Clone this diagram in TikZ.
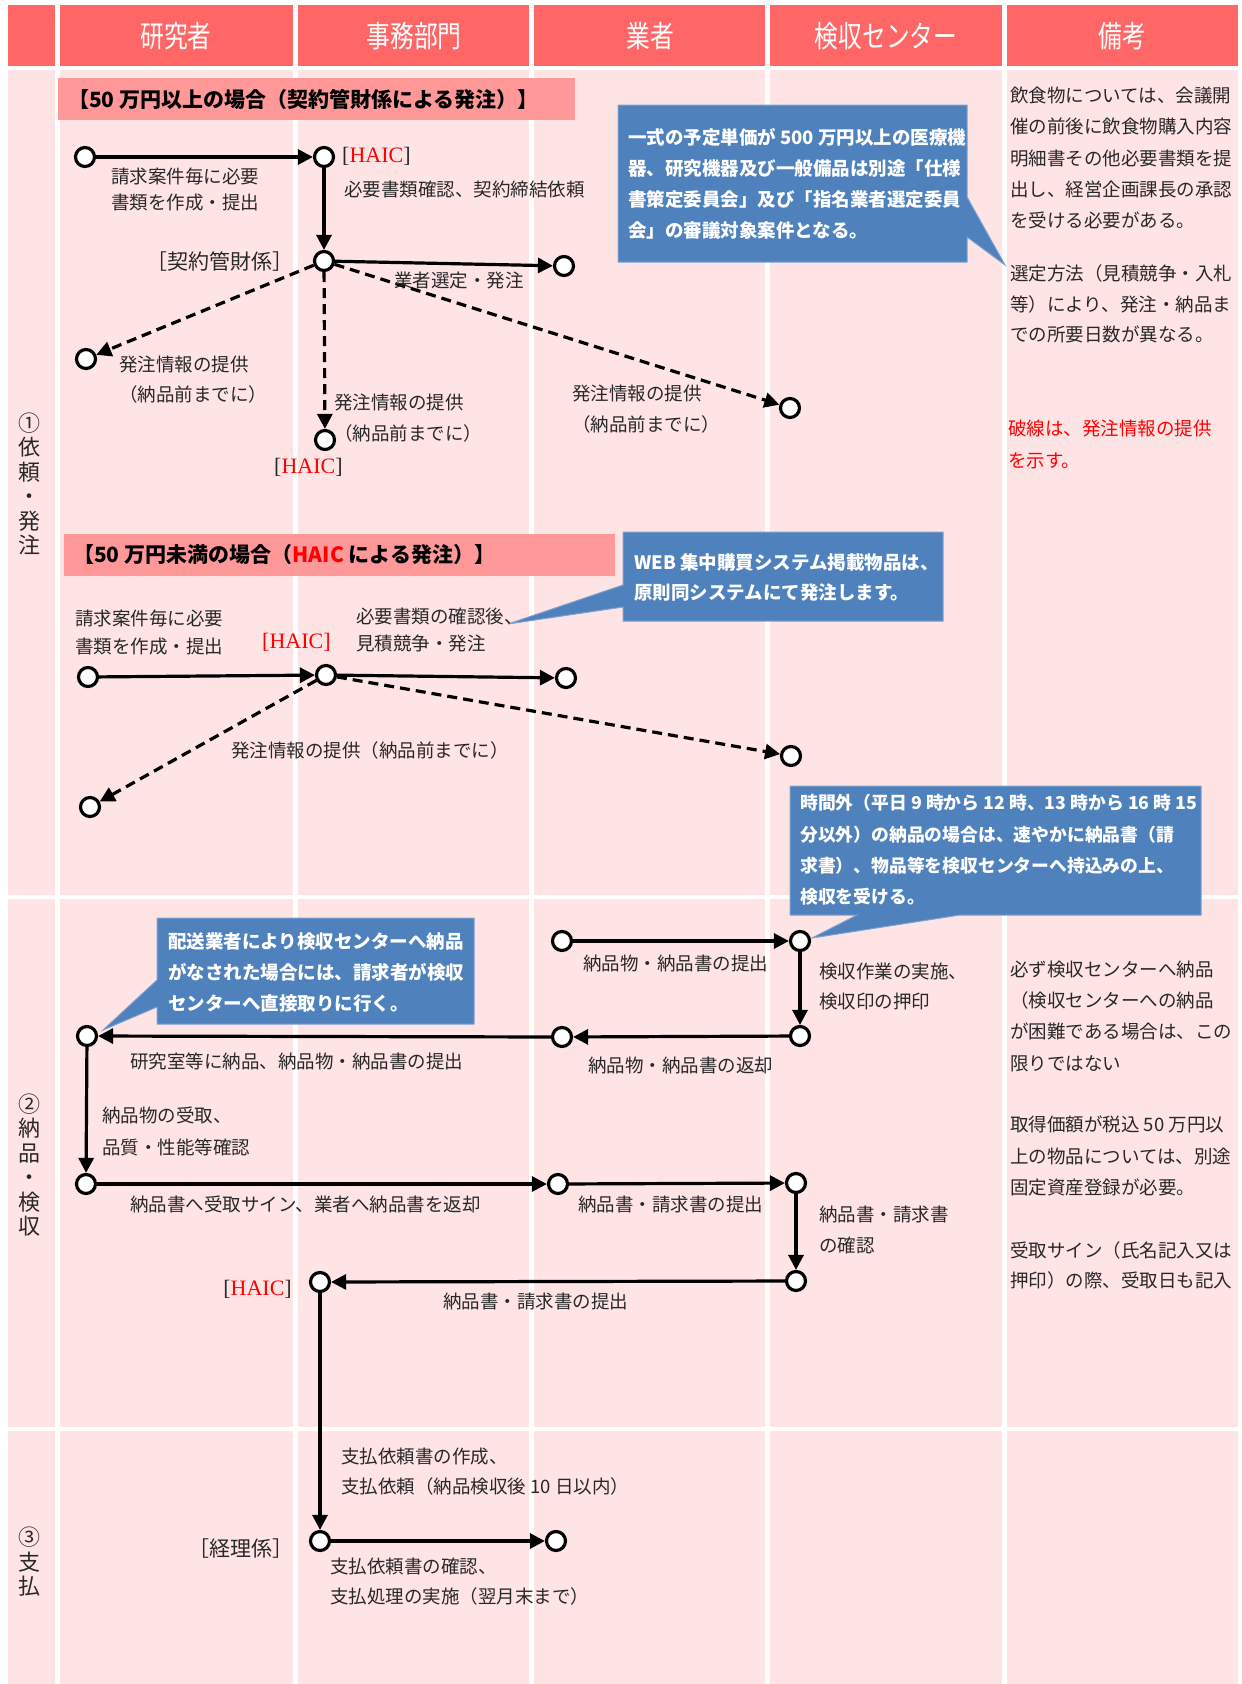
\documentclass[tikz,border=0pt]{standalone}
\usepackage{fontspec}
\setmainfont{Noto Sans CJK JP}
\newfontfamily\latf{Liberation Serif}
\usetikzlibrary{arrows.meta}
\definecolor{hdr}{RGB}{255,102,102}
\definecolor{cellc}{RGB}{255,228,230}
\definecolor{bann}{RGB}{255,153,153}
\definecolor{cblue}{RGB}{79,129,189}
\definecolor{cbord}{RGB}{125,162,210}
\definecolor{hred}{RGB}{255,0,0}
\definecolor{txt}{RGB}{40,40,40}
\newcommand{\fsz}[2]{\fontsize{#1}{#2}\selectfont}
\newcommand{\haic}{{\latf\fsz{22}{24}[\textcolor{hred}{HAIC}]}}
\newcommand{\haicred}{{\latf\fsz{22}{24}\textcolor{hred}{[HAIC]}}}
\newcommand{\tallhd}[1]{\scalebox{0.95}[1.2]{#1}}
\tikzset{
  stn/.style={circle, draw=black, line width=3.2pt, fill=white, minimum size=19pt, inner sep=0pt},
  arr/.style={line width=3.2pt, -{Triangle[length=15pt,width=15pt]}},
  darr/.style={arr, dash pattern=on 10pt off 6pt},
  lbl/.style={inner sep=0pt, anchor=west, align=left, text=txt, font=\fsz{18.5}{26}},
  lblp/.style={lbl, font=\fsz{18.5}{#1}},
  role/.style={lbl, anchor=east, font=\fsz{21}{24}},
  hdrtxt/.style={text=white, font=\fsz{25}{27}, inner sep=0pt},
  rowlbl/.style={text=txt, align=center, font=\fsz{22}{24.5}, inner sep=0pt},
  co/.style={fill=cblue, draw=cbord, line width=1pt},
  cotxt/.style={inner sep=0pt, anchor=west, align=left, text=white, font=\bfseries\fsz{18.5}{#1}},
  bantxt/.style={inner sep=0pt, anchor=west, text=black, font=\bfseries\fsz{21}{23}},
  rmk/.style={inner sep=0pt, anchor=west, align=left, text=txt, font=\fsz{18.5}{#1}},
}
\begin{document}
\begin{tikzpicture}[x=1pt,y=-1pt]
\useasboundingbox (0,0) rectangle (1242,1684);
\fill[white] (0,0) rectangle (1242,1684);
% cells
\foreach \xa/\xb in {8/55,60/293,298/529,534/765,770/1002,1007/1238}{
  \fill[hdr] (\xa,5) rectangle (\xb,66);
  \fill[cellc] (\xa,70) rectangle (\xb,895);
  \fill[cellc] (\xa,899) rectangle (\xb,1427);
  \fill[cellc] (\xa,1431) rectangle (\xb,1684);
}
% header texts
\node[hdrtxt] (h1) at (176,36) {\tallhd{研究者}};
\node[hdrtxt] (h2) at (414,36) {\tallhd{事務部門}};
\node[hdrtxt] (h3) at (650,36) {\tallhd{業者}};
\node[hdrtxt] (h4) at (886,36) {\tallhd{検収センター}};
\node[hdrtxt] (h5) at (1122,36) {\tallhd{備考}};
% row labels
\node[rowlbl] (r1) at (29,484) {①\\依\\頼\\・\\発\\注};
\node[rowlbl] (r2) at (29,1165) {②\\納\\品\\・\\検\\収};
\node[rowlbl] (r3) at (29,1562) {③\\支\\払};
% banners
\fill[bann] (58,78) rectangle (575,120);
\node[bantxt] (b1) at (68,99) {【50 万円以上の場合（契約管財係による発注）】};
\fill[bann] (64,534) rectangle (615,576);
\node[bantxt] (b2) at (73,555) {【50 万円未満の場合（\textcolor{hred}{HAIC} による発注）】};
% callouts
\draw[co] (618,105) -- (967,105) -- (967,197) -- (1005,265) -- (967,237) -- (967,262) -- (618,262) -- cycle;
\node[cotxt=31] (k1) at (628,184) {一式の予定単価が 500 万円以上の医療機\\器、研究機器及び一般備品は別途「仕様\\書策定委員会」及び「指名業者選定委員\\会」の審議対象案件となる。};
\draw[co] (623,532) -- (943,532) -- (943,621) -- (623,621) -- (623,607) -- (508,624) -- (623,585) -- cycle;
\node[cotxt=30] (k2) at (634,577) {WEB 集中購買システム掲載物品は、\\原則同システムにて発注します。};
\draw[co] (790,786) -- (1201,786) -- (1201,915) -- (960,915) -- (812,938) -- (857,915) -- (790,915) -- cycle;
\node[cotxt=31.3, font=\bfseries\fsz{17.8}{31.3}] (k3) at (800,850) {時間外（平日 9 時から 12 時、13 時から 16 時 15\\分以外）の納品の場合は、速やかに納品書（請\\求書）、物品等を検収センターへ持込みの上、\\検収を受ける。};
\draw[co] (157,918) -- (474,918) -- (474,1024) -- (157,1024) -- (157,1007) -- (103,1030) -- (157,980) -- cycle;
\node[cotxt=31] (k4) at (168,972) {配送業者により検収センターへ納品\\がなされた場合には、請求者が検収\\センターへ直接取りに行く。};
% remarks
\node[rmk=31.4] (m1) at (1010,158) {飲食物については、会議開\\催の前後に飲食物購入内容\\明細書その他必要書類を提\\出し、経営企画課長の承認\\を受ける必要がある。};
\node[rmk=30.5] (m2) at (1010,304) {選定方法（見積競争・入札\\等）により、発注・納品ま\\での所要日数が異なる。};
\node[rmk=32, text=hred] (m3) at (1008,444) {破線は、発注情報の提供\\を示す。};
\node[rmk=31.3] (m4) at (1010,1016) {必ず検収センターへ納品\\（検収センターへの納品\\が困難である場合は、この\\限りではない};
\node[rmk=31.5] (m5) at (1010,1156) {取得価額が税込 50 万円以\\上の物品については、別途\\固定資産登録が必要。};
\node[rmk=30] (m6) at (1010,1265) {受取サイン（氏名記入又は\\押印）の際、受取日も記入};
% ---- section 1 upper flow
\node[stn] (c1) at (85,157) {};
\node[stn] (c2) at (324,157) {};
\node[stn] (c3) at (324,261) {};
\node[stn] (c4) at (564,266) {};
\node[stn] (c5) at (86,359) {};
\node[stn] (c6) at (325,440) {};
\node[stn] (c7) at (790,408) {};
\draw[arr] (c1) -- (c2);
\draw[arr] (c2) -- (c3);
\draw[arr] (c3) -- (c4);
\draw[darr] (c3) -- (c5);
\draw[darr] (c3) -- (c6);
\draw[darr] (c3) -- (c7);
\node[lblp=26] (t1) at (111,190) {請求案件毎に必要\\書類を作成・提出};
\node[lbl] (t2) at (342,156) {\haic};
\node[lbl] (t3) at (344,189) {必要書類確認、契約締結依頼};
\node[role] (t4) at (294,262) {［契約管財係］};
\node[lbl] (t5) at (394,280) {業者選定・発注};
\node[lblp=30] (t6) at (119,380) {発注情報の提供\\（納品前までに）};
\node[lblp=31] (t7) at (334,418) {発注情報の提供\\（納品前までに）};
\node[lbl] (t8) at (274,467) {\haic};
\node[lblp=31] (t9) at (572,409) {発注情報の提供\\（納品前までに）};
% ---- section 1 lower flow
\node[stn] (d1) at (88,677) {};
\node[stn] (d2) at (326,675) {};
\node[stn] (d3) at (566,678) {};
\node[stn] (d4) at (90,807) {};
\node[stn] (d5) at (791,756) {};
\draw[arr] (d1) -- (d2);
\draw[arr] (d2) -- (d3);
\draw[darr] (d2) -- (d4);
\draw[darr] (d2) -- (d5);
\node[lblp=28] (u1) at (75,633) {請求案件毎に必要\\書類を作成・提出};
\node[lbl] (u2) at (262,642) {\haicred};
\node[lblp=27] (u3) at (356,630) {必要書類の確認後、\\見積競争・発注};
\node[lbl] (u4) at (231,750) {発注情報の提供（納品前までに）};
% ---- section 2
\node[stn] (e1) at (562,941) {};
\node[stn] (e2) at (800,941) {};
\node[stn] (e3) at (800,1036) {};
\node[stn] (e4) at (562,1037) {};
\node[stn] (e5) at (87,1036) {};
\node[stn] (e6) at (86,1184) {};
\node[stn] (e7) at (558,1184) {};
\node[stn] (e8) at (796,1183) {};
\node[stn] (e9) at (796,1281) {};
\node[stn] (e10) at (320,1282) {};
\draw[arr] (e1) -- (e2);
\draw[arr] (e2) -- (e3);
\draw[arr] (e3) -- (e4);
\draw[arr] (e4) -- (e5);
\draw[arr] (e5) -- (e6);
\draw[arr] (e6) -- (e7);
\draw[arr] (e7) -- (e8);
\draw[arr] (e8) -- (e9);
\draw[arr] (e9) -- (e10);
\node[lbl] (v1) at (583,963) {納品物・納品書の提出};
\node[lblp=30] (v2) at (819,986) {検収作業の実施、\\検収印の押印};
\node[lbl] (v3) at (588,1065) {納品物・納品書の返却};
\node[lbl] (v4) at (130,1061) {研究室等に納品、納品物・納品書の提出};
\node[lblp=32] (v5) at (102,1131) {納品物の受取、\\品質・性能等確認};
\node[lbl] (v6) at (130,1204) {納品書へ受取サイン、業者へ納品書を返却};
\node[lbl] (v7) at (578,1204) {納品書・請求書の提出};
\node[lblp=31] (v8) at (819,1230) {納品書・請求書\\の確認};
\node[lbl] (v9) at (443,1301) {納品書・請求書の提出};
\node[lbl, anchor=east] (v10) at (292,1289) {\haic};
% ---- section 3
\node[stn] (f1) at (320,1541) {};
\node[stn] (f2) at (556,1541) {};
\draw[arr] (e10) -- (f1);
\draw[arr] (f1) -- (f2);
\node[lblp=30] (w1) at (341,1472) {支払依頼書の作成、\\支払依頼（納品検収後 10 日以内）};
\node[role] (w2) at (294,1549) {［経理係］};
\node[lblp=30] (w3) at (330,1582) {支払依頼書の確認、\\支払処理の実施（翌月末まで）};
\end{tikzpicture}
\end{document}
